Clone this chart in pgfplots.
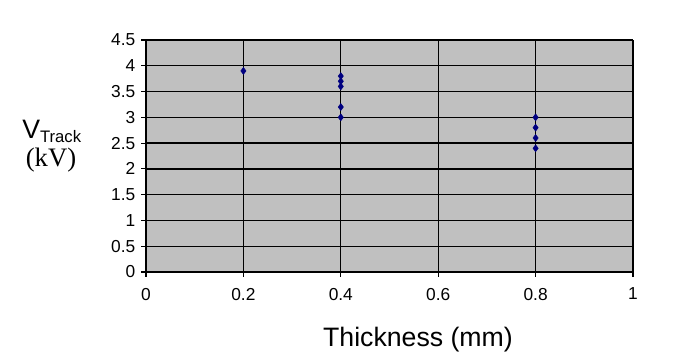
\documentclass[border=0pt]{standalone}
\usepackage{fontspec}
\setmainfont{Liberation Sans}
\newfontfamily\seriffont{Liberation Serif}
\usepackage{pgfplots}
\pgfplotsset{compat=1.18}
\definecolor{plotgray}{HTML}{C0C0C0}
\definecolor{navymark}{HTML}{000080}
\newcommand\tickfont{\fontsize{13}{15}\selectfont}
\begin{document}
\begin{tikzpicture}
\path[use as bounding box] (-109.5pt,-62.25pt) rectangle (415.5pt,204pt);
\begin{axis}[
  at={(0,0)}, anchor=south west,
  scale only axis,
  width=365.25pt, height=174pt,
  xmin=0, xmax=1, ymin=0, ymax=4.5,
  xtick={0,0.2,...,1}, ytick={0,0.5,...,4.5},
  xticklabels={0,0.2,0.4,0.6,0.8,1},
  yticklabels={0,0.5,1,1.5,2,2.5,3,3.5,4,4.5},
  axis background/.style={fill=plotgray},
  axis x line*=bottom, axis y line*=left,
  axis line style={black, line width=0.8pt, -},
  grid=major,
  major grid style={black, line width=1pt},
  tick style={black, line width=0.8pt},
  tick align=outside,
  major tick length=3.5pt,
  every tick label/.append style={font=\tickfont},
  xticklabel style={yshift=-5pt, font=\tickfont},
  yticklabel style={xshift=-1pt, font=\tickfont},
  /pgf/number format/assume math mode=true,
  clip=false,
]
\addplot[only marks, mark=diamond*, mark size=2.6pt, color=navymark, mark options={fill=navymark}]
  coordinates {
  (0.2,3.9)
  (0.4,3.8) (0.4,3.7) (0.4,3.6) (0.4,3.2) (0.4,3.0)
  (0.8,3.0) (0.8,2.8) (0.8,2.6) (0.8,2.4)
  };
\end{axis}
\node[anchor=base west, inner sep=0pt] at (-93pt,100.5pt) {\fontsize{20}{22}\selectfont V\raisebox{-0.3ex}{\fontsize{12.5}{14}\selectfont Track}};
\node[anchor=base, inner sep=0pt] at (-71.25pt,79pt) {\seriffont\fontsize{20}{22}\selectfont (kV)};
\node[anchor=base, inner sep=0pt] at (204pt,-55.5pt) {\fontsize{20}{22}\selectfont Thickness (mm)};
\end{tikzpicture}
\end{document}
